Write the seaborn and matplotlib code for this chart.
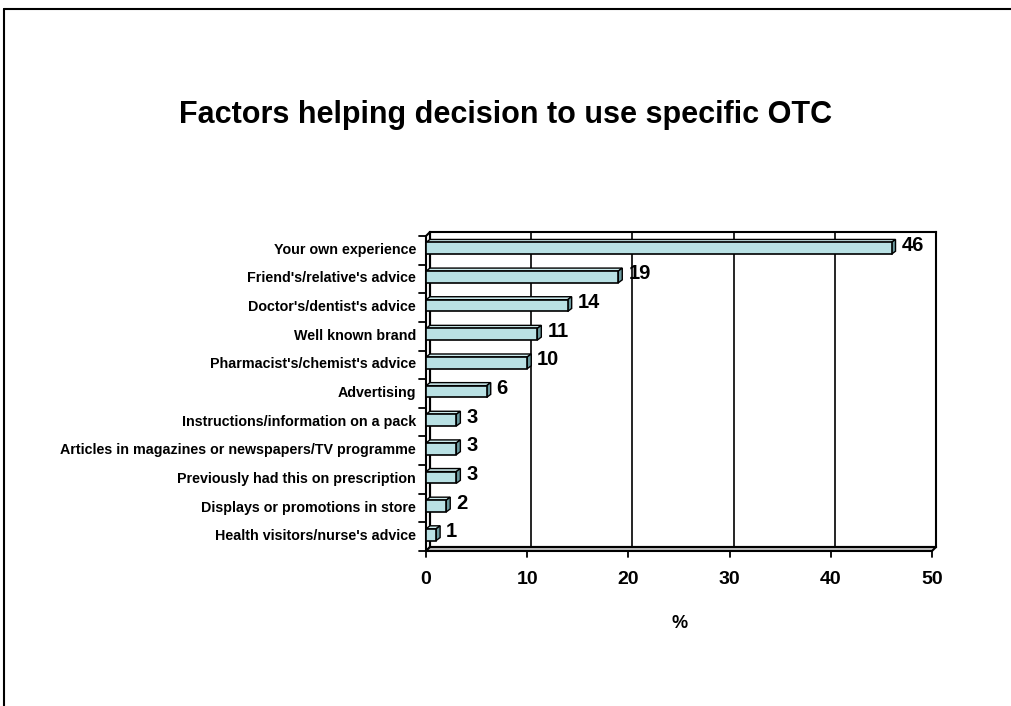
import numpy as np
import pandas as pd
import seaborn as sns
import matplotlib
matplotlib.use("Agg")
import matplotlib.pyplot as plt
from matplotlib.transforms import Affine2D, blended_transform_factory
from matplotlib.patches import Polygon
from matplotlib.lines import Line2D

# ---- data -------------------------------------------------------------
categories = [
    "Your own experience",
    "Friend's/relative's advice",
    "Doctor's/dentist's advice",
    "Well known brand",
    "Pharmacist's/chemist's advice",
    "Advertising",
    "Instructions/information on a pack",
    "Articles in magazines or newspapers/TV programme",
    "Previously had this on prescription",
    "Displays or promotions in store",
    "Health visitors/nurse's advice",
]
values = [46, 19, 14, 11, 10, 6, 3, 3, 3, 2, 1]
x_ticks = [0, 10, 20, 30, 40, 50]
title = "Factors helping decision to use specific OTC"
x_label = "%"

# ---- style ------------------------------------------------------------
FACE = "#B9E1E4"
SIDE = "#6C9A9F"
TOP = "#CBEAEC"
FLOOR = "#C0C0C0"

sns.set_theme(style="white")
plt.rcParams["font.family"] = ["Liberation Sans", "DejaVu Sans"]

W, H = 1011, 706
fig = plt.figure(figsize=(W / 100, H / 100), dpi=100)
fig.patch.set_facecolor("white")

# back wall of the 3-D plot area
ax = fig.add_axes([430 / W, 1 - 547 / H, 506 / W, 315 / H])
df = pd.DataFrame({"factor": categories, "pct": values})
sns.barplot(data=df, x="pct", y="factor", orient="h", color=FACE,
            saturation=1, edgecolor="black", linewidth=1.2, width=0.41,
            ax=ax, zorder=3)
ax.set_xlim(x_ticks[0], x_ticks[-1])
ax.set_ylim(len(categories) - 0.5, -0.5)
ax.set_facecolor("white")

for s in ax.spines.values():
    s.set_color("black")
    s.set_linewidth(1.5)
ax.xaxis.grid(True, color="black", linewidth=1.2, zorder=0)
ax.yaxis.grid(False)
ax.set_axisbelow(True)

# pixel -> data / axes conversions for the depth effect
ax_w, ax_h = 506.0, 315.0
px_x = (x_ticks[-1] - x_ticks[0]) / ax_w
px_y = len(categories) / ax_h
DEPTH = 4  # px
fdx, fdy = -DEPTH * px_x, 2 * px_y      # front plane of bars
bdx, bdy = 0.0, -1 * px_y               # back plane of bars

bars = list(ax.patches)
for p, v in zip(bars, values):
    x0, y0, w, h = p.get_x(), p.get_y(), p.get_width(), p.get_height()
    p.set_x(x0 + fdx)
    p.set_y(y0 + fdy)
    p.set_clip_on(False)
    top = Polygon([(x0 + fdx, y0 + fdy), (x0 + w + fdx, y0 + fdy),
                   (x0 + w + bdx, y0 + bdy), (x0 + bdx, y0 + bdy)],
                  closed=True, facecolor=TOP, edgecolor="black",
                  linewidth=1.0, zorder=2.9, clip_on=False)
    side = Polygon([(x0 + w + fdx, y0 + fdy), (x0 + w + bdx, y0 + bdy),
                    (x0 + w + bdx, y0 + h + bdy), (x0 + w + fdx, y0 + h + fdy)],
                   closed=True, facecolor=SIDE, edgecolor="black",
                   linewidth=1.0, zorder=2.9, clip_on=False)
    ax.add_patch(top)
    ax.add_patch(side)
    ax.annotate(f"{v}", xy=(x0 + w, y0 + h / 2), xytext=(6, 1),
                textcoords="offset pixels", ha="left", va="center",
                fontsize=14.5, fontweight="bold", color="black",
                annotation_clip=False, zorder=5)

# floor and left wall (depth offset in axes fraction)
dxa, dya = -DEPTH / ax_w, -DEPTH / ax_h
floor = Polygon([(0, 0), (1, 0), (1 + dxa, dya), (dxa, dya)], closed=True,
                transform=ax.transAxes, facecolor=FLOOR, edgecolor="black",
                linewidth=1.5, clip_on=False, zorder=4)
ax.add_patch(floor)
wall = Polygon([(0, 0), (0, 1), (dxa, 1 + dya), (dxa, dya)], closed=True,
               transform=ax.transAxes, facecolor="white", edgecolor="black",
               linewidth=1.5, clip_on=False, zorder=2)
ax.add_patch(wall)

# x tick marks on the front edge of the floor
for t in x_ticks:
    xa = (t - x_ticks[0]) / (x_ticks[-1] - x_ticks[0]) + dxa
    ax.add_line(Line2D([xa, xa], [dya, dya - 6 / ax_h], transform=ax.transAxes,
                       color="black", linewidth=1.3, clip_on=False, zorder=4))

# category boundary ticks on the front edge of the left wall
ytrans = blended_transform_factory(ax.transAxes, ax.transData)
for b in np.arange(-0.5, len(categories), 1.0):
    yb = b + DEPTH * px_y
    ax.add_line(Line2D([dxa - 7 / ax_w, dxa], [yb, yb], transform=ytrans,
                       color="black", linewidth=1.3, clip_on=False, zorder=4))

# tick labels
ax.set_xticks(x_ticks)
ax.set_xticklabels([str(t) for t in x_ticks])
ax.tick_params(axis="x", length=0, pad=17.5, labelsize=14)
ax.tick_params(axis="y", length=0, pad=10, labelsize=10.3)
for lab in ax.get_xticklabels():
    lab.set_fontweight("bold")
    lab.set_color("black")
    lab.set_transform(lab.get_transform() + Affine2D().translate(-DEPTH, 0))
for lab in ax.get_yticklabels():
    lab.set_fontweight("bold")
    lab.set_color("black")
    lab.set_transform(lab.get_transform() + Affine2D().translate(0, -2))
ax.set_ylabel("")
ax.set_xlabel(x_label, fontsize=13, fontweight="bold", color="black")
ax.xaxis.set_label_coords((680 - 430) / ax_w, (547 - 623) / ax_h)
ax.xaxis.label.set_va("center")

# title
fig.text(0.5, 1 - 115 / H, title, ha="center", va="center",
         fontsize=22, fontweight="bold", color="black")

# chart frame
fig.add_artist(Line2D([4 / W, 1], [1 - 9 / H, 1 - 9 / H],
                      transform=fig.transFigure, color="black", linewidth=1.5))
fig.add_artist(Line2D([4 / W, 4 / W], [0, 1 - 9 / H],
                      transform=fig.transFigure, color="black", linewidth=1.5))

fig.savefig("out.png", dpi=100)
